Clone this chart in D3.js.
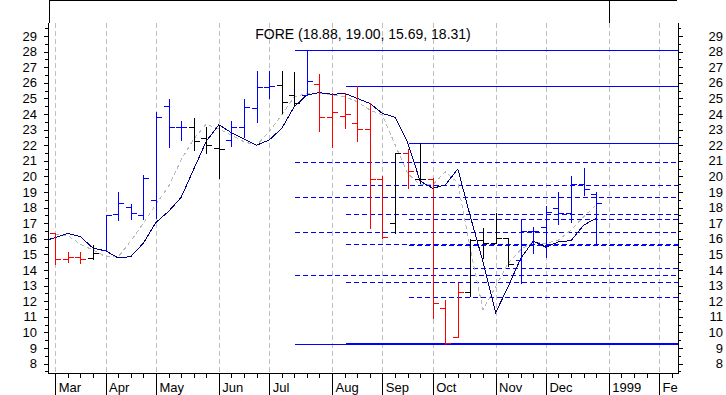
<!DOCTYPE html>
<html>
<head>
<meta charset="utf-8">
<script src="https://cdn.jsdelivr.net/npm/d3@7/dist/d3.min.js"></script>
<style>
  body { margin: 0; background: #fff; }
  svg { display: block; font-family: "Liberation Sans", Arial, sans-serif; }
</style>
</head>
<body>
<svg id="chart" width="726" height="395"></svg>
<script>
// weekly bars (Friday dates), first week only carries the slow average
var weeks = ["02/27","03/06","03/13","03/20","03/27","04/03","04/10","04/17","04/24",
  "05/01","05/08","05/15","05/22","05/29","06/05","06/12","06/19","06/26",
  "07/03","07/10","07/17","07/24","07/31","08/07","08/14","08/21","08/28",
  "09/04","09/11","09/18","09/25","10/02","10/09","10/16","10/23","10/30",
  "11/06","11/13","11/20","11/25","12/04","12/11","12/18","12/24","12/31"];

var opens  = [null,16.35,14.70,14.85,14.78,15.29,17.59,18.06,17.53,18.49,24.51,23.19,23.19,22.44,21.80,22.33,23.14,24.41,25.75,25.89,25.22,
  25.22,25.92,23.78,23.87,23.44,23.04,19.81,16.99,21.50,19.81,19.83,11.54,9.72,12.61,15.92,15.71,16.07,14.64,16.50,16.74,17.95,17.63,19.51,18.88];
var highs  = [null,16.35,15.17,15.17,15.61,17.53,18.98,18.25,20.09,24.15,24.94,23.55,23.72,23.14,23.29,23.55,24.94,26.76,26.76,26.76,26.67,
  28.10,26.56,25.32,25.32,25.80,24.68,20.05,21.47,21.76,22.15,19.87,12.08,13.19,15.99,16.67,17.67,16.07,17.25,16.78,18.10,19.02,20.03,20.51,19.00];
var lows   = [null,14.38,14.49,14.43,14.70,15.29,17.19,17.27,17.27,17.31,21.91,22.33,21.69,21.47,19.88,21.95,22.50,23.51,25.04,24.08,24.58,
  25.22,22.93,21.91,23.12,22.27,16.67,16.07,16.39,19.24,19.56,10.90,9.25,9.69,12.33,14.75,15.71,14.26,13.15,15.11,14.81,16.95,17.10,18.81,15.69];
var closes = [null,14.70,14.85,14.70,15.06,17.53,18.27,17.67,19.88,23.79,23.15,23.19,22.27,22.01,21.74,23.14,24.42,25.75,25.81,24.79,24.68,
  26.11,23.78,24.11,24.00,23.04,19.84,16.10,21.47,20.36,19.81,11.86,9.30,12.61,15.92,15.71,16.07,14.36,16.50,16.50,17.74,17.63,19.51,19.17,18.31];
// 1 = up, -1 = down, 0 = neutral
var trend  = [null,-1,-1,-1,0,1,1,1,1,1,1,1,0,0,0,1,1,1,1,0,0,
  1,-1,-1,-1,-1,-1,-1,0,-1,0,-1,-1,-1,0,0,0,0,1,1,1,1,1,1,1];

var slowAvg = [15.85,16.07,16.35,16.13,15.40,15.24,14.77,14.86,15.72,17.05,17.75,18.65,20.45,22.25,23.31,22.80,22.40,22.00,22.33,23.08,24.47,
  25.22,25.37,25.26,25.32,25.00,24.68,24.04,23.79,22.20,19.70,19.24,19.45,20.48,17.41,14.53,11.26,12.93,14.75,15.86,15.46,15.81,15.88,16.88,17.31];
var fastAvg = [null,16.28,16.20,15.65,15.28,14.86,14.84,15.85,17.00,18.20,19.35,21.05,22.40,23.35,23.05,22.65,22.22,22.00,22.87,23.94,25.10,
  25.32,25.32,25.22,25.11,24.79,24.26,23.94,22.05,20.20,19.45,19.45,20.30,19.60,15.30,11.45,12.93,14.43,15.30,15.81,15.70,15.92,16.56,17.41,18.17];

// retracement sets: week where drawn from, swing high, swing low, levels
var fibStart  = [20, 24, 29];
var fibHigh   = [28.10, 25.80, 22.15];
var fibLow    = [9.25, 9.30, 9.30];
var fibLevels = [[13.70, 16.45, 18.68, 20.90],
                 [13.20, 15.66, 17.62, 19.48],
                 [12.30, 14.16, 15.62, 17.24]];

var monthLabels = ["Mar","Apr","May","Jun","Jul","Aug","Sep","Oct","Nov","Dec","1999","Feb"];
var monthWeek   = [1, 5, 9, 14, 18, 23, 27, 31, 36, 40, 45, 49];
var yTicks = d3.range(8, 30);

var title = "FORE (18.88, 19.00, 15.69, 18.31)";

// (window.top is read-only, so the pane edges get their own names)
var plotLeft = 49, plotRight = 679, plotTop = 23, plotBottom = 373;
var svg = d3.select("#chart").attr("shape-rendering", "crispEdges");

var x = d3.scaleLinear().domain([0.5, 50.58]).range([plotLeft, plotRight]);
var y = d3.scaleLinear().domain([8, 29]).range([363.6, 36]);
function px(i){ return Math.round(x(i)) + 0.5; }
function py(v){ return Math.round(y(v)) + 0.5; }

svg.append("clipPath").attr("id", "plot")
  .append("rect").attr("x", plotLeft).attr("y", plotTop)
  .attr("width", plotRight - plotLeft).attr("height", plotBottom - plotTop);
svg.append("clipPath").attr("id", "xlabels")
  .append("rect").attr("x", 0).attr("y", 0).attr("width", plotRight - 1).attr("height", 395);

// header strip
svg.append("path").attr("d", "M49.5,23V0.5H677").attr("fill", "none").attr("stroke", "#000");
svg.append("line").attr("x1", px(45)).attr("x2", px(45)).attr("y1", 0).attr("y2", 23).attr("stroke", "#000");

// month grid
svg.append("g").selectAll("line").data(monthWeek).enter().append("line")
  .attr("x1", px).attr("x2", px).attr("y1", plotTop).attr("y2", plotBottom)
  .attr("stroke", "#c0c0c0").attr("stroke-dasharray", "5,3");

// retracement lines
var fib = svg.append("g");
fibStart.forEach(function(s, k){
  fib.selectAll(null).data(fibLevels[k]).enter().append("line")
    .attr("x1", px(s)).attr("x2", plotRight - 1).attr("y1", py).attr("y2", py)
    .attr("stroke", "#0000ff").attr("stroke-dasharray", "5,3");
  fib.append("line").attr("x1", px(s)).attr("x2", plotRight - 1)
    .attr("y1", py(fibHigh[k])).attr("y2", py(fibHigh[k])).attr("stroke", "#0000ff");
  fib.append("line").attr("x1", px(s)).attr("x2", plotRight - 1)
    .attr("y1", py(fibLow[k])).attr("y2", py(fibLow[k])).attr("stroke", "#0000ff");
});

// moving averages
var maLine = d3.line()
  .defined(function(d){ return d != null; })
  .x(function(d, i){ return x(i); })
  .y(function(d){ return y(d); });
var ma = svg.append("g").attr("clip-path", "url(#plot)");
ma.append("path").attr("d", maLine(fastAvg)).attr("fill", "none")
  .attr("stroke", "#b8b8b8").attr("stroke-dasharray", "4,3");
ma.append("path").attr("d", maLine(slowAvg)).attr("fill", "none").attr("stroke", "#000080");

// OHLC bars
var colour = {"1": "#0000ff", "-1": "#ff0000", "0": "#000000"};
var bars = svg.append("g");
opens.forEach(function(o, i){
  if (o == null) return;
  var cx = Math.round(x(i)), c = colour[trend[i]];
  var b = bars.append("g").attr("stroke", c);
  b.append("line").attr("x1", cx + 0.5).attr("x2", cx + 0.5)
    .attr("y1", Math.round(y(highs[i]))).attr("y2", Math.round(y(lows[i])) + 1);
  b.append("line").attr("x1", cx - 5).attr("x2", cx + 1).attr("y1", py(o)).attr("y2", py(o));
  b.append("line").attr("x1", cx).attr("x2", cx + 6).attr("y1", py(closes[i])).attr("y2", py(closes[i]));
});

// axes
svg.append("line").attr("x1", 48.5).attr("x2", 48.5).attr("y1", plotTop).attr("y2", plotBottom + 1).attr("stroke", "#000");
svg.append("line").attr("x1", 678.5).attr("x2", 678.5).attr("y1", plotTop).attr("y2", plotBottom + 1).attr("stroke", "#000");
svg.append("line").attr("x1", 48).attr("x2", 679).attr("y1", 373.5).attr("y2", 373.5).attr("stroke", "#000");

function minorY(axis){
  return axis(y).tickValues(d3.range(7.5, 30, 1)).tickSize(3).tickFormat("");
}
var gl = svg.append("g").attr("transform", "translate(48,0)");
gl.call(d3.axisLeft(y).tickValues(yTicks).tickSize(4).tickPadding(7).tickFormat(d3.format("d")));
gl.append("g").call(minorY(d3.axisLeft));
var gr = svg.append("g").attr("transform", "translate(678,0)");
gr.call(d3.axisRight(y).tickValues(yTicks).tickSize(5).tickFormat(d3.format("d")));
gr.append("g").call(minorY(d3.axisRight));
gr.selectAll("text").attr("text-anchor", "end").attr("x", 45);

var gb = svg.append("g").attr("transform", "translate(0,373)");
gb.call(d3.axisBottom(x).tickValues(d3.range(1, 51)).tickSize(5).tickFormat(""));
var gm = svg.append("g").attr("clip-path", "url(#xlabels)")
  .append("g").attr("transform", "translate(0,373)");
gm.call(d3.axisBottom(x).tickValues(monthWeek).tickSize(22)
  .tickFormat(function(d, i){ return monthLabels[i]; }));
gm.selectAll("text").attr("text-anchor", "start").attr("x", 3).attr("y", 19).attr("dy", 0);

svg.selectAll(".domain").remove();
svg.selectAll(".tick text").attr("font-size", 13).attr("fill", "#000")
  .attr("font-family", "'Liberation Sans', Arial, sans-serif");
svg.selectAll(".tick line").attr("stroke", "#000");

svg.append("text").attr("x", 363).attr("y", 39).attr("text-anchor", "middle")
  .attr("font-size", 14).attr("fill", "#000").text(title);
</script>
</body>
</html>
